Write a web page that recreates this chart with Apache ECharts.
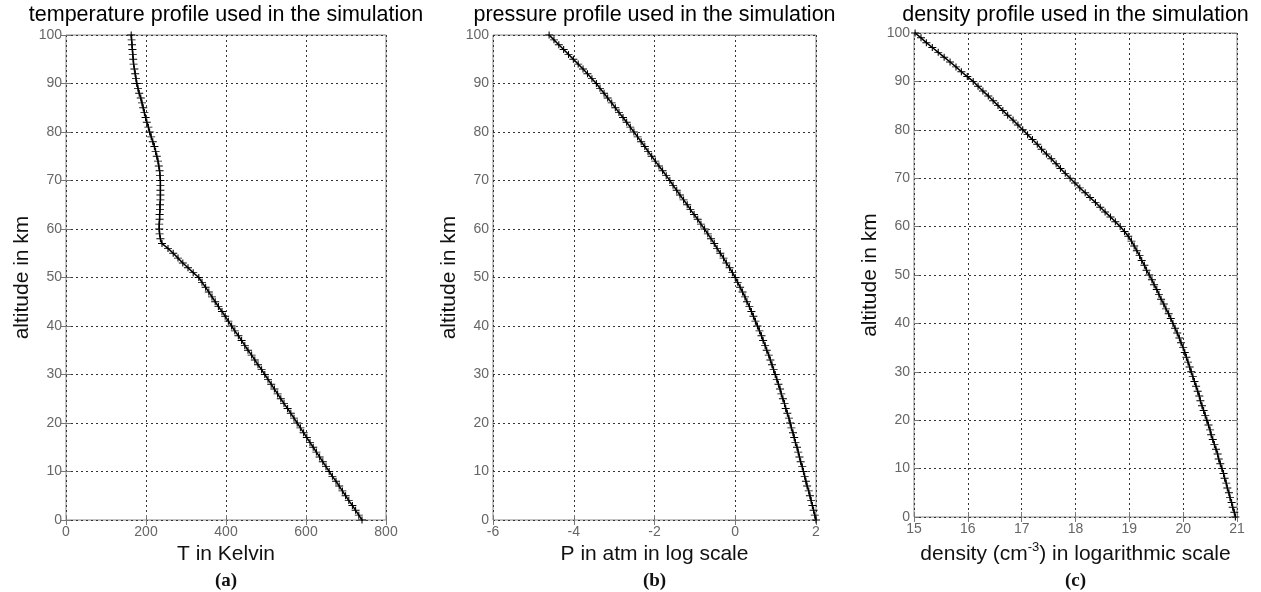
<!DOCTYPE html>
<html><head><meta charset="utf-8">
<script src="https://cdn.jsdelivr.net/npm/echarts@6/dist/echarts.min.js"></script>
<style>html,body{margin:0;padding:0;background:#fff}#c{width:1261px;height:592px}</style>
</head><body><div id="c"></div>
<script>
// altitude (km) of each simulation level
const altitudeKm = [0,1,2,3,4,5,6,7,8,9,10,11,12,13,14,15,16,17,18,19,20,21,22,23,24,25,26,27,28,29,30,31,32,33,34,35,36,37,38,39,40,41,42,43,44,45,46,47,48,49,50,51,52,53,54,55,56,57,58,59,60,61,62,63,64,65,66,67,68,69,70,71,72,73,74,75,76,77,78,79,80,81,82,83,84,85,86,87,88,89,90,91,92,93,94,95,96,97,98,99,100];
// (a) temperature in Kelvin
const temperatureK = [740,732,724,716,707,699,691,683,675,666,658,650,642,634,626,618,610,602,594,586,578,570,562,554,545,537,529,521,513,505,497,489,480,472,464,455,447,439,431,422,414,406,398,390,381,373,365,357,349,340,332,318,305,292,280,268,255,240,236,234,233,233,234,234,235,235,236,236,236,236,236,235,234,232,230,227,224,221,217,213,209,206,202,199,196,193,190,187,183,180,177,175,173,171,169,168,167,166,165,164,163];
// (b) pressure, log10(P / atm)
const logPressure = [2.00,1.97,1.94,1.91,1.88,1.85,1.82,1.78,1.75,1.72,1.69,1.66,1.62,1.59,1.56,1.53,1.49,1.46,1.43,1.39,1.36,1.33,1.29,1.25,1.22,1.18,1.14,1.11,1.07,1.03,0.99,0.95,0.91,0.87,0.83,0.78,0.74,0.69,0.65,0.60,0.55,0.50,0.45,0.40,0.35,0.29,0.24,0.18,0.12,0.06,0.00,-0.07,-0.14,-0.22,-0.29,-0.37,-0.45,-0.52,-0.60,-0.68,-0.76,-0.85,-0.93,-1.02,-1.11,-1.19,-1.28,-1.37,-1.45,-1.54,-1.62,-1.71,-1.80,-1.89,-1.98,-2.07,-2.16,-2.24,-2.33,-2.42,-2.51,-2.60,-2.69,-2.78,-2.88,-2.97,-3.06,-3.16,-3.25,-3.35,-3.44,-3.55,-3.66,-3.77,-3.89,-4.01,-4.13,-4.25,-4.37,-4.49,-4.61];
// (c) density, log10(n / cm^-3)
const logDensity = [20.97,20.95,20.92,20.90,20.87,20.85,20.82,20.80,20.77,20.75,20.72,20.69,20.66,20.64,20.61,20.58,20.55,20.52,20.50,20.47,20.44,20.41,20.38,20.35,20.32,20.30,20.27,20.24,20.21,20.18,20.15,20.12,20.09,20.06,20.03,20.00,19.96,19.93,19.89,19.85,19.81,19.77,19.73,19.68,19.64,19.59,19.55,19.51,19.46,19.42,19.37,19.32,19.28,19.23,19.19,19.14,19.09,19.04,18.98,18.91,18.83,18.74,18.65,18.55,18.46,18.37,18.27,18.18,18.08,17.99,17.90,17.81,17.72,17.64,17.55,17.46,17.37,17.29,17.20,17.11,17.02,16.93,16.84,16.74,16.65,16.56,16.47,16.38,16.28,16.19,16.10,15.99,15.88,15.78,15.67,15.56,15.45,15.34,15.23,15.13,15.02];

// axis ranges [min, max, interval]
const altitudeRange = [0, 100, 10];
const tempRange = [0, 800, 200];
const pressureRange = [-6, 2, 2];
const densityRange = [15, 21, 1];

const titles = ['temperature profile used in the simulation','pressure profile used in the simulation','density profile used in the simulation'];
const xNames = ['T in Kelvin','P in atm in log scale','density (cm{sup|-3}) in logarithmic scale'];
const yName = 'altitude in km';
const panelTags = ['(a)','(b)','(c)'];

const FONT = 'Liberation Sans, Arial, sans-serif';
const grids = [
  {left:66, top:35, width:320, height:485},
  {left:493, top:35, width:323, height:485},
  {left:914, top:33, width:323, height:484}
];
const ranges = [tempRange, pressureRange, densityRange];
const values = [temperatureK, logPressure, logDensity];

const option = {
  animation:false,
  backgroundColor:'#fff',
  grid: grids.map(g => Object.assign({show:true, borderColor:'#888', borderWidth:1, backgroundColor:'#fff'}, g)),
  xAxis: [], yAxis: [], series: [],
  graphic: []
};
const gridLine = {show:true, lineStyle:{color:'#333', type:[2,3], width:1}};
grids.forEach((g, i) => {
  const r = ranges[i];
  option.xAxis.push({
    type:'value', gridIndex:i, min:r[0], max:r[1], interval:r[2], position:'bottom',
    name:xNames[i], nameLocation:'middle', nameGap:23,
    nameTextStyle:{fontFamily:FONT, fontSize:21, color:'#111',
      rich:{sup:{fontFamily:FONT, fontSize:13, color:'#111', padding:[0,0,14,0]}}},
    axisLine:{show:false}, axisTick:{show:true, inside:true, length:5, lineStyle:{color:'#777'}},
    axisLabel:{fontFamily:FONT, fontSize:14, color:'#666', margin:5},
    splitLine:gridLine
  });
  option.xAxis.push({
    type:'value', gridIndex:i, min:r[0], max:r[1], interval:r[2], position:'top',
    axisLine:{show:false}, axisTick:{show:true, inside:true, length:5, lineStyle:{color:'#777'}},
    axisLabel:{show:false}, splitLine:{show:false}
  });
  option.yAxis.push({
    type:'value', gridIndex:i, min:altitudeRange[0], max:altitudeRange[1], interval:altitudeRange[2], position:'left',
    name:yName, nameLocation:'middle', nameGap:33,
    nameTextStyle:{fontFamily:FONT, fontSize:21, color:'#111'},
    axisLine:{show:false}, axisTick:{show:true, inside:true, length:5, lineStyle:{color:'#777'}},
    axisLabel:{fontFamily:FONT, fontSize:14, color:'#666', margin:4},
    splitLine:gridLine
  });
  option.yAxis.push({
    type:'value', gridIndex:i, min:altitudeRange[0], max:altitudeRange[1], interval:altitudeRange[2], position:'right',
    axisLine:{show:false}, axisTick:{show:true, inside:true, length:5, lineStyle:{color:'#777'}},
    axisLabel:{show:false}, splitLine:{show:false}
  });
  option.series.push({
    type:'line', xAxisIndex:2*i, yAxisIndex:2*i,
    data: altitudeKm.map((h, k) => [values[i][k], h]),
    showAllSymbol:true,
    symbol:'path://M0,4L8,4M4,0L4,8', symbolSize:[8,7],
    itemStyle:{color:'#000', borderColor:'#000', borderWidth:1},
    lineStyle:{color:'#000', width:1.5},
    z:5
  });
  const cx = g.left + g.width/2;
  option.graphic.push({type:'text', x:cx, y:15, style:{text:titles[i], fontFamily:FONT, fontSize:21.5, fill:'#000', align:'center', verticalAlign:'middle'}});
  option.graphic.push({type:'text', x:cx, y:581, style:{text:panelTags[i], fontFamily:'Liberation Serif, Times New Roman, serif', fontWeight:'bold', fontSize:19, fill:'#111', align:'center', verticalAlign:'middle'}});
});
const chart = echarts.init(document.getElementById('c'), null, {renderer:'canvas'});
chart.setOption(option);
</script>
</body></html>
